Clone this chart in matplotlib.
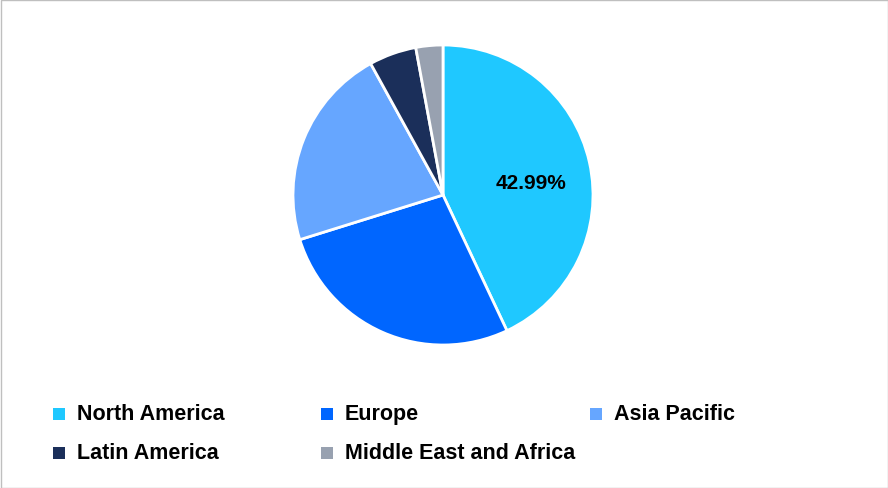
import matplotlib
matplotlib.use("Agg")
import matplotlib.pyplot as plt
from matplotlib.patches import Rectangle

regions = ["North America", "Europe", "Asia Pacific", "Latin America", "Middle East and Africa"]
shares = [42.99, 27.2, 21.8, 5.1, 2.91]
colors = ["#1FC8FF", "#0066FF", "#66A6FF", "#1B2F5A", "#98A1B0"]

plt.rcParams['font.family'] = ['Liberation Sans', 'DejaVu Sans']
W, H = 888, 489
fig = plt.figure(figsize=(W/100, H/100), dpi=100)
fig.patches.append(Rectangle((0.5/W, 0.5/H), 1-1/W, 1-1/H, transform=fig.transFigure,
                             fill=False, edgecolor="#BFBFBF", lw=1))
ax = fig.add_axes([(443-150)/W, (H-346)/H, 300/W, 300/H])
wedges, texts, autotexts = ax.pie(shares, colors=colors, startangle=90, counterclock=False,
       wedgeprops=dict(edgecolor="white", linewidth=2),
       autopct=lambda p: f"{p:.2f}%" if p > 40 else "", pctdistance=0.6)
for t in autotexts:
    t.set_fontsize(15); t.set_fontweight("bold"); t.set_color("black")
    x, y = t.get_position(); t.set_position((x, y - 0.05))
ax.set_xlim(-1, 1); ax.set_ylim(-1, 1)
ax.set_aspect("equal")

xs = [53, 321, 590]
ys = [415, 454]
for i, (r, c) in enumerate(zip(regions, colors)):
    x = xs[i % 3]; y = ys[i // 3]
    fig.patches.append(Rectangle((x/W, (H-y-6)/H), 12/W, 12/H, transform=fig.transFigure,
                                 facecolor=c, edgecolor="none"))
    fig.text((x+24)/W, (H-y)/H, r, fontsize=15.5, fontweight="bold", va="center", ha="left")

fig.savefig("out.png", dpi=100)
